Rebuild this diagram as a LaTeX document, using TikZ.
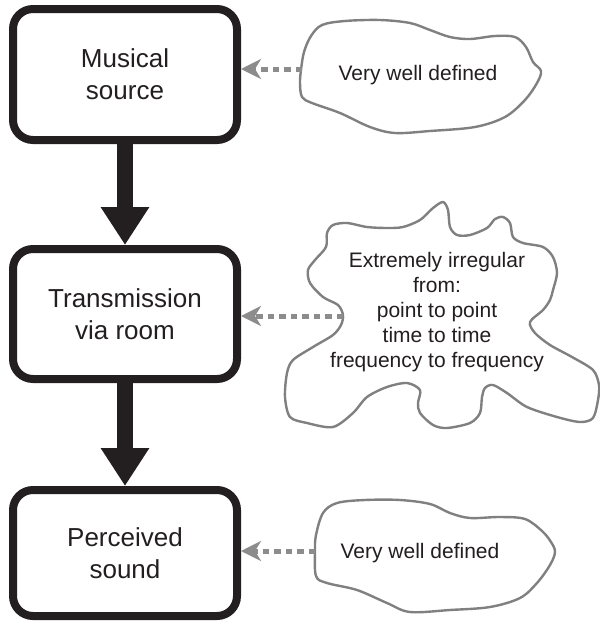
\documentclass[tikz,border=0pt]{standalone}
\usepackage{fontspec}
\setmainfont{Liberation Sans}
\usetikzlibrary{arrows.meta}
\definecolor{ink}{HTML}{231F20}
\definecolor{cloudgray}{HTML}{808080}
\definecolor{arrowgray}{HTML}{8C8C8C}
\tikzset{
  stagebox/.style={draw=ink, line width=8pt, rounded corners=20pt, fill=white,
    minimum width=224pt, text=ink, align=center,
    font=\fontsize{26pt}{32pt}\selectfont},
  bigarrow/.style={draw=ink, line width=16pt,
    -{Triangle[length=38pt, width=46pt]}},
  cloudline/.style={draw=cloudgray, line width=2.4pt, fill=white},
  cloudtext/.style={text=ink, align=center, font=\fontsize{21pt}{25pt}\selectfont},
  hintarrow/.style={draw=arrowgray, line width=5pt, dash pattern=on 6.5pt off 5pt,
    -{Stealth[length=20pt, width=20pt, inset=6pt]}}
}
\begin{document}
\begin{tikzpicture}[x=1pt, y=-1pt]
\useasboundingbox (0,0) rectangle (600,622);

% stage boxes
\node[stagebox, minimum height=131pt] (b1) at (125,74.5) {Musical\\source};
\node[stagebox, minimum height=130pt] (b2) at (125,314) {Transmission\\via room};
\node[stagebox, minimum height=126pt] (b3) at (125,553) {Perceived\\sound};

% main arrows
\draw[bigarrow] (b1.south) -- (b2.north);
\draw[bigarrow] (b2.south) -- (b3.north);

% clouds
\draw[cloudline] plot[smooth cycle, tension=0.55] coordinates {
 (301,70) (304,52) (311,36) (322,25) (345,21) (380,20) (410,23) (430,30)
 (450,37) (470,39) (495,36) (515,37) (526,47) (533,62) (541,71) (537,83)
 (525,100) (505,117) (475,127) (430,131) (395,133) (370,127) (340,113)
 (312,103) (302,97) (300,83)};

\draw[cloudline] plot[smooth cycle, tension=0.5] coordinates {
 (343,315) (338,305) (323,297) (310,283) (308,270) (315,260) (326,247)
 (327,233) (333,225) (347,223) (367,227) (387,228) (403,227) (420,220)
 (433,208) (443,202) (448,210) (450,227) (457,235) (470,235) (487,228)
 (495,219) (503,217) (510,223) (513,237) (523,243) (543,247) (553,257)
 (557,273) (553,290) (550,300) (543,310) (530,322) (535,333) (550,345)
 (572,357) (593,370) (599,385) (598,400) (593,418) (580,422) (557,417)
 (527,407) (507,393) (493,385) (485,388) (482,397) (480,413) (470,423)
 (447,428) (433,425) (420,413) (418,403) (420,390) (407,383) (387,387)
 (367,397) (353,413) (333,427) (307,423) (290,417) (285,397) (287,373)
 (293,360) (313,347) (333,335) (341,325)};

\draw[cloudline] plot[smooth cycle, tension=0.55] coordinates {
 (315,551) (316,535) (323,513) (337,503) (365,500) (400,500) (430,504)
 (450,513) (470,518) (500,517) (525,519) (542,531) (551,542) (555,552)
 (550,565) (537,583) (520,598) (490,607) (450,610) (410,612) (387,603)
 (357,590) (327,583) (316,576)};

% cloud texts
\node[cloudtext] (t1) at (418,75) {Very well defined};
\node[cloudtext] (t2) at (437,312) {Extremely irregular\\from:\\point to point\\time to time\\frequency to frequency};
\node[cloudtext] (t3) at (420,553) {Very well defined};

% contact points on clouds
\coordinate (c1) at (302,69);
\coordinate (c2) at (343,316);
\coordinate (c3) at (315,551);

% hint arrows
\draw[hintarrow] (c1) -- (c1 -| b1.east);
\draw[hintarrow] (c2) -- (c2 -| b2.east);
\draw[hintarrow] (c3) -- (c3 -| b3.east);
\end{tikzpicture}
\end{document}
